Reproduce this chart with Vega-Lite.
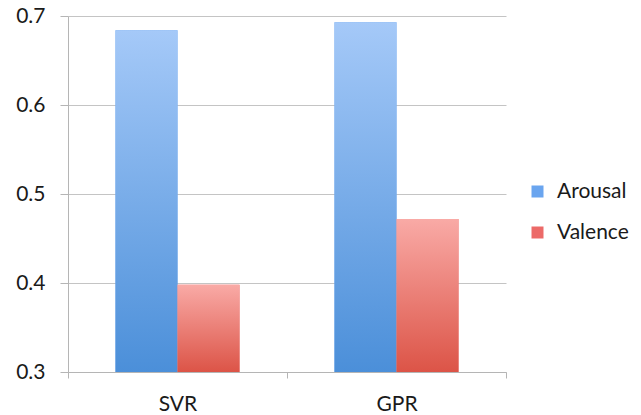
{
  "$schema": "https://vega.github.io/schema/vega-lite/v6.json",
  "width": 438,
  "height": 356,
  "autosize": {"type": "none"},
  "padding": {"left": 68, "top": 16, "right": 135, "bottom": 43},
  "background": "white",
  "config": {
    "view": {"stroke": null},
    "font": "Lato",
    "axis": {"labelFont": "Lato", "labelColor": "#1a1a1a"},
    "legend": {"labelFont": "Lato"}
  },
  "data": {
    "values": [
      {"method": "SVR", "series": "Arousal", "value": 0.684},
      {"method": "SVR", "series": "Valence", "value": 0.398},
      {"method": "GPR", "series": "Arousal", "value": 0.693},
      {"method": "GPR", "series": "Valence", "value": 0.472}
    ]
  },
  "encoding": {
    "x": {
      "field": "method",
      "type": "nominal",
      "sort": ["SVR", "GPR"],
      "scale": {"paddingInner": 0, "paddingOuter": 0},
      "axis": {
        "title": null,
        "labelAngle": 0,
        "labelFontSize": 21,
        "labelPadding": 15,
        "tickBand": "extent",
        "ticks": true,
        "tickSize": 6,
        "tickColor": "#b5b5b5",
        "domainColor": "#b5b5b5",
        "grid": false
      }
    },
    "xOffset": {
      "field": "series",
      "type": "nominal",
      "sort": ["Arousal", "Valence"],
      "scale": {"paddingInner": 0, "paddingOuter": 0.766}
    },
    "y": {
      "field": "value",
      "type": "quantitative",
      "scale": {"domain": [0.3, 0.7], "nice": false, "zero": false},
      "axis": {
        "title": null,
        "values": [0.3, 0.4, 0.5, 0.6, 0.7],
        "format": ".1f",
        "labelFontSize": 21,
        "labelPadding": 15,
        "tickSize": 8,
        "tickColor": "#b5b5b5",
        "domainColor": "#b5b5b5",
        "gridColor": "#c4c4c4",
        "grid": true
      }
    },
    "y2": {"datum": 0.3}
  },
  "layer": [
    {
      "mark": {"type": "bar"},
      "encoding": {
        "color": {
          "field": "series",
          "type": "nominal",
          "scale": {"domain": ["Arousal", "Valence"], "range": ["#6aa5ef", "#ec6a68"]},
          "legend": {
            "title": null,
            "orient": "none",
            "legendX": 459,
            "legendY": 165,
            "padding": 0,
            "symbolType": "square",
            "symbolSize": 144,
            "symbolStrokeWidth": 0,
            "labelFontSize": 21,
            "labelColor": "#1a1a1a",
            "labelOffset": 9,
            "rowPadding": 19
          }
        }
      }
    },
    {
      "transform": [{"filter": "datum.series === 'Arousal'"}],
      "mark": {
        "type": "bar",
        "color": {
          "gradient": "linear",
          "x1": 0, "y1": 0, "x2": 0, "y2": 1,
          "stops": [
            {"offset": 0, "color": "#a5c9f8"},
            {"offset": 1, "color": "#4b8fd9"}
          ]
        }
      },
      "encoding": {}
    },
    {
      "transform": [{"filter": "datum.series === 'Valence'"}],
      "mark": {
        "type": "bar",
        "color": {
          "gradient": "linear",
          "x1": 0, "y1": 0, "x2": 0, "y2": 1,
          "stops": [
            {"offset": 0, "color": "#f9aaa6"},
            {"offset": 1, "color": "#dc5447"}
          ]
        }
      },
      "encoding": {}
    }
  ]
}
